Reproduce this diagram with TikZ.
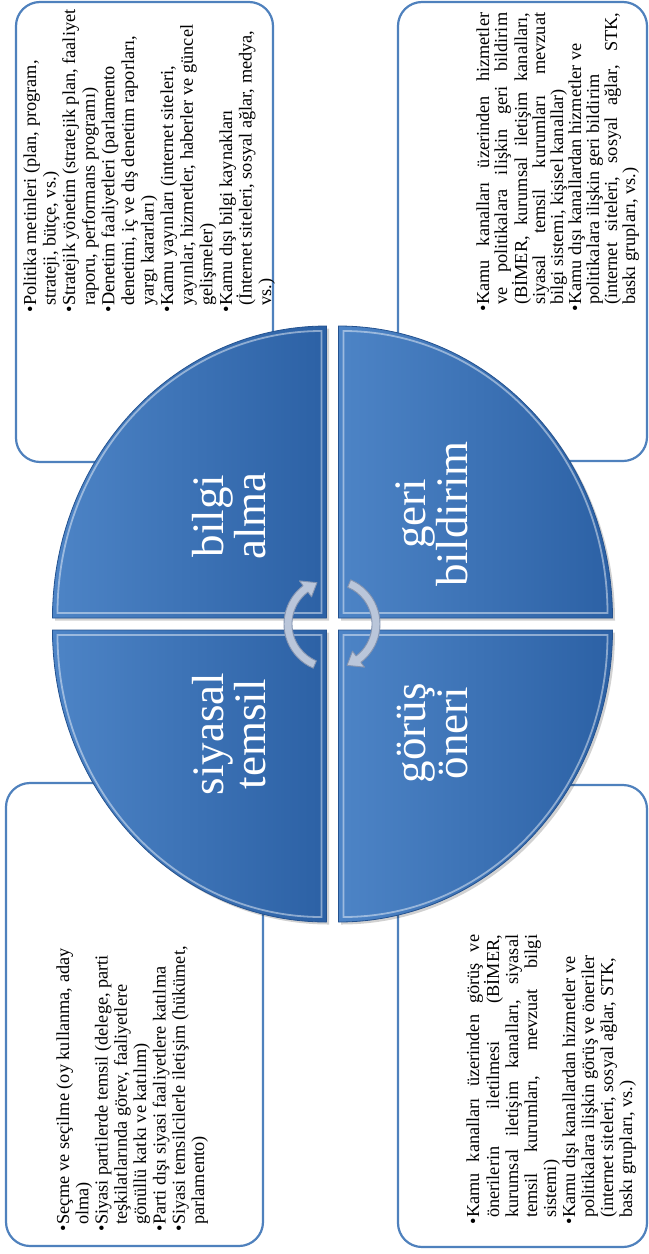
\documentclass[tikz,border=0pt]{standalone}
\usepackage{fontspec}
\setmainfont{Liberation Serif}
\definecolor{boxblue}{HTML}{4F81BD}
\definecolor{pieL}{HTML}{4D84C6}
\definecolor{pieR}{HTML}{2C61A5}
\definecolor{pieEdge}{HTML}{24528F}
\definecolor{arrFill}{HTML}{BAC6DA}
\definecolor{arrEdge}{HTML}{8494B0}
\newcommand{\bli}{\makebox[7bp][l]{•}}
\newcommand{\ci}{\hspace*{7bp}}
\newcommand{\jl}[2]{\makebox[#1][s]{#2}}
\tikzset{
  panel/.style={draw=boxblue, line width=2.2bp, fill=white, rounded corners=24bp, rectangle, inner sep=0pt},
  listtext/.style={rotate=90, anchor=base west, inner sep=0pt},
  quadlabel/.style={rotate=90, text=white, align=center, inner sep=0pt, font=\fontsize{45bp}{42bp}\selectfont},
  quad/.style={left color=pieL, right color=pieR, draw=pieEdge, line width=0.8bp},
  bevel/.style={draw=white, draw opacity=0.45, line width=1.8bp},
  shade/.style={fill=black, fill opacity=0.18},
  cyc/.style={fill=arrFill, draw=arrEdge, line width=0.9bp, line join=round},
}
\begin{document}
\begin{tikzpicture}[x=1bp,y=-1bp]
\useasboundingbox (0,0) rectangle (649,1254);
% corner panels
\node[panel, minimum width=257bp, minimum height=460bp] (tlbox) at (144.5,232) {};
\node[panel, minimum width=249bp, minimum height=459bp] (trbox) at (522.5,231.5) {};
\node[panel, minimum width=257bp, minimum height=463bp] (blbox) at (134.5,1014.5) {};
\node[panel, minimum width=249bp, minimum height=462bp] (brbox) at (522.5,1016) {};
% panel texts
\node[listtext] (tltext) at (36,313) {\fontsize{18.3bp}{19.6bp}\selectfont\begin{minipage}[t]{305bp}\raggedright
\bli Politika metinleri (plan, program,\\
\ci strateji, bütçe, vs.)\\
\bli Stratejik yönetim (stratejik plan, faaliyet\\
\ci raporu, performans programı)\\
\bli Denetim faaliyetleri (parlamento\\
\ci denetimi, iç ve dış denetim raporları,\\
\ci yargı kararları)\\
\bli Kamu yayınları (internet siteleri,\\
\ci yayınlar, hizmetler, haberler ve güncel\\
\ci gelişmeler)\\
\bli Kamu dışı bilgi kaynakları\\
\ci (İnternet siteleri, sosyal ağlar, medya,\\
\ci vs.)
\end{minipage}};
\node[listtext] (trtext) at (489,312) {\fontsize{18.3bp}{18bp}\selectfont\begin{minipage}[t]{305bp}\raggedright
\bli\jl{292bp}{Kamu kanalları üzerinden hizmetler}\\
\ci\jl{292bp}{ve politikalara ilişkin geri bildirim}\\
\ci\jl{292bp}{(BİMER, kurumsal iletişim kanalları,}\\
\ci\jl{292bp}{siyasal temsil kurumları mevzuat}\\
\ci bilgi sistemi, kişisel kanallar)\\
\bli Kamu dışı kanallardan hizmetler ve\\
\ci politikalara ilişkin geri bildirim\\
\ci\jl{292bp}{(internet siteleri, sosyal ağlar, STK,}\\
\ci baskı grupları, vs.)
\end{minipage}};
\node[listtext] (bltext) at (69,1232) {\fontsize{18.3bp}{19.3bp}\selectfont\begin{minipage}[t]{305bp}\raggedright
\bli Seçme ve seçilme (oy kullanma, aday\\
\ci olma)\\
\bli Siyasi partilerde temsil (delege, parti\\
\ci teşkilatlarında görev, faaliyetlere\\
\ci gönüllü katkı ve katılım)\\
\bli Parti dışı siyasi faaliyetlere katılma\\
\bli Siyasi temsilcilerle iletişim (hükümet,\\
\ci parlamento)
\end{minipage}};
\node[listtext] (brtext) at (479,1225) {\fontsize{18.3bp}{19bp}\selectfont\begin{minipage}[t]{305bp}\raggedright
\bli\jl{283bp}{Kamu kanalları üzerinden görüş ve}\\
\ci\jl{283bp}{önerilerin iletilmesi (BİMER,}\\
\ci\jl{283bp}{kurumsal iletişim kanalları, siyasal}\\
\ci\jl{283bp}{temsil kurumları, mevzuat bilgi}\\
\ci sistemi)\\
\bli Kamu dışı kanallardan hizmetler ve\\
\ci politikalara ilişkin görüş ve öneriler\\
\ci (internet siteleri, sosyal ağlar, STK,\\
\ci baskı grupları, vs.)
\end{minipage}};
% shadows of quadrants
\begin{scope}[shift={(2.5,2.5)}]
\path[shade] (326.5,618) -- (52.5,618) arc[start angle=180, end angle=270, x radius=274, y radius=292] -- cycle;
\path[shade] (338.5,618) -- (338.5,326) arc[start angle=270, end angle=360, x radius=274, y radius=292] -- cycle;
\path[shade] (326.5,630) -- (326.5,922) arc[start angle=90, end angle=180, x radius=274, y radius=292] -- cycle;
\path[shade] (338.5,630) -- (612.5,630) arc[start angle=0, end angle=90, x radius=274, y radius=292] -- cycle;
\end{scope}
% quadrants
\path[quad] (326.5,618) -- (52.5,618) arc[start angle=180, end angle=270, x radius=274, y radius=292] -- cycle;
\path[quad] (338.5,618) -- (338.5,326) arc[start angle=270, end angle=360, x radius=274, y radius=292] -- cycle;
\path[quad] (326.5,630) -- (326.5,922) arc[start angle=90, end angle=180, x radius=274, y radius=292] -- cycle;
\path[quad] (338.5,630) -- (612.5,630) arc[start angle=0, end angle=90, x radius=274, y radius=292] -- cycle;
% bevel highlights
\path[bevel] (321.5,613) -- (57.5,613) arc[start angle=180, end angle=270, x radius=264, y radius=282] -- cycle;
\path[bevel] (343.5,613) -- (343.5,331) arc[start angle=270, end angle=360, x radius=264, y radius=282] -- cycle;
\path[bevel] (321.5,635) -- (321.5,917) arc[start angle=90, end angle=180, x radius=264, y radius=282] -- cycle;
\path[bevel] (343.5,635) -- (607.5,635) arc[start angle=0, end angle=90, x radius=264, y radius=282] -- cycle;
% quadrant labels
\node[quadlabel] (bilgi) at (229,516) {bilgi\\alma};
\node[quadlabel] (geri) at (432,514) {geri\\bildirim};
\node[quadlabel] (siyasal) at (229,734) {siyasal\\temsil};
\node[quadlabel] (gorus) at (432,733) {görüş\\öneri};
% central cycle arrows
\begin{scope}[shift={(332,624)}]
\path[cyc] (113:48) arc[start angle=113, end angle=233, radius=48] -- (233:54) -- (250:44) -- (233:34) -- (233:40) arc[start angle=233, end angle=113, radius=40] -- cycle;
\path[cyc] (293:48) arc[start angle=293, end angle=413, radius=48] -- (413:54) -- (430:44) -- (413:34) -- (413:40) arc[start angle=413, end angle=293, radius=40] -- cycle;
\end{scope}
\end{tikzpicture}
\end{document}
